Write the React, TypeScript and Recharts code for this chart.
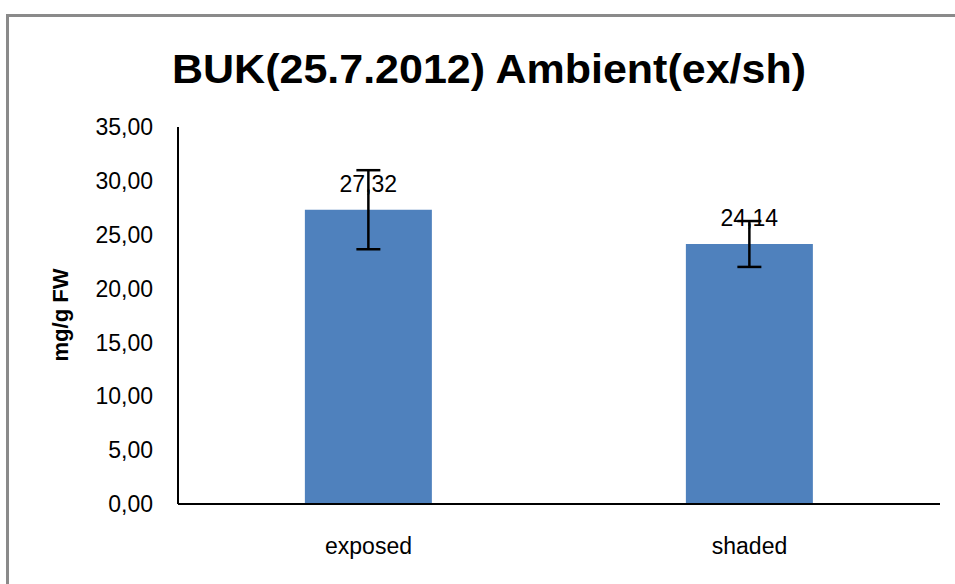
import React from 'react';
import { BarChart, Bar, XAxis, YAxis, ErrorBar, LabelList } from 'recharts';

const categories = ['exposed', 'shaded'];
const values = [27.32, 24.14];
const errors = [3.67, 2.13];
const yTicks = [0, 5, 10, 15, 20, 25, 30, 35];
const title = 'BUK(25.7.2012) Ambient(ex/sh)';
const yLabel = 'mg/g FW';

const data = categories.map((c, i) => ({ name: c, value: values[i], err: errors[i] }));

const fmt = (v: number) => v.toFixed(2).replace('.', ',');
const FONT = '"Liberation Sans", Arial, sans-serif';

export default function App() {
  return (
    <div style={{ position: 'absolute', left: 0, top: 0, width: 955, height: 584, background: '#fff', overflow: 'hidden' }}>
      <div
        style={{
          position: 'absolute',
          left: 6,
          top: 14,
          width: 1000,
          height: 700,
          borderLeft: '3px solid #8a8a8a',
          borderTop: '3px solid #8a8a8a',
          boxSizing: 'border-box',
        }}
      />
      <div style={{ position: 'absolute', left: 0, top: 0 }}>
        <BarChart
          width={955}
          height={584}
          data={data}
          margin={{ top: 127, right: 15, bottom: 0, left: 0 }}
          barCategoryGap="33.3%"
        >
          <XAxis
            dataKey="name"
            height={80}
            axisLine={{ stroke: '#000', strokeWidth: 2 }}
            tickLine={false}
            tickSize={0}
            tickMargin={34}
            tick={{ fill: '#000', fontSize: 23, fontFamily: FONT }}
          />
          <YAxis
            width={178}
            domain={[0, 35]}
            ticks={yTicks}
            interval={0}
            tickFormatter={fmt}
            axisLine={{ stroke: '#000', strokeWidth: 2 }}
            tickLine={false}
            tickSize={0}
            tickMargin={25}
            tick={{ fill: '#000', fontSize: 23, fontFamily: FONT }}
          />
          <Bar dataKey="value" fill="#4F81BD" isAnimationActive={false}>
            <LabelList
              dataKey="value"
              position="top"
              offset={18}
              formatter={(v: any) => fmt(Number(v))}
              style={{ fill: '#000', fontSize: 23, fontFamily: FONT }}
            />
            <ErrorBar dataKey="err" width={12} stroke="#000" strokeWidth={2.5} direction="y" />
          </Bar>
        </BarChart>
      </div>
      <svg width={955} height={584} style={{ position: 'absolute', left: 0, top: 0, pointerEvents: 'none' }}>
        <text
          x={489}
          y={83}
          textAnchor="middle"
          textLength={634}
          lengthAdjust="spacingAndGlyphs"
          style={{ fontFamily: FONT, fontWeight: 'bold', fontSize: 40, fill: '#000' }}
        >
          {title}
        </text>
        <text
          x={0}
          y={0}
          transform="translate(68,315) rotate(-90)"
          textAnchor="middle"
          style={{ fontFamily: FONT, fontWeight: 'bold', fontSize: 22, fill: '#000' }}
        >
          {yLabel}
        </text>
      </svg>
    </div>
  );
}
